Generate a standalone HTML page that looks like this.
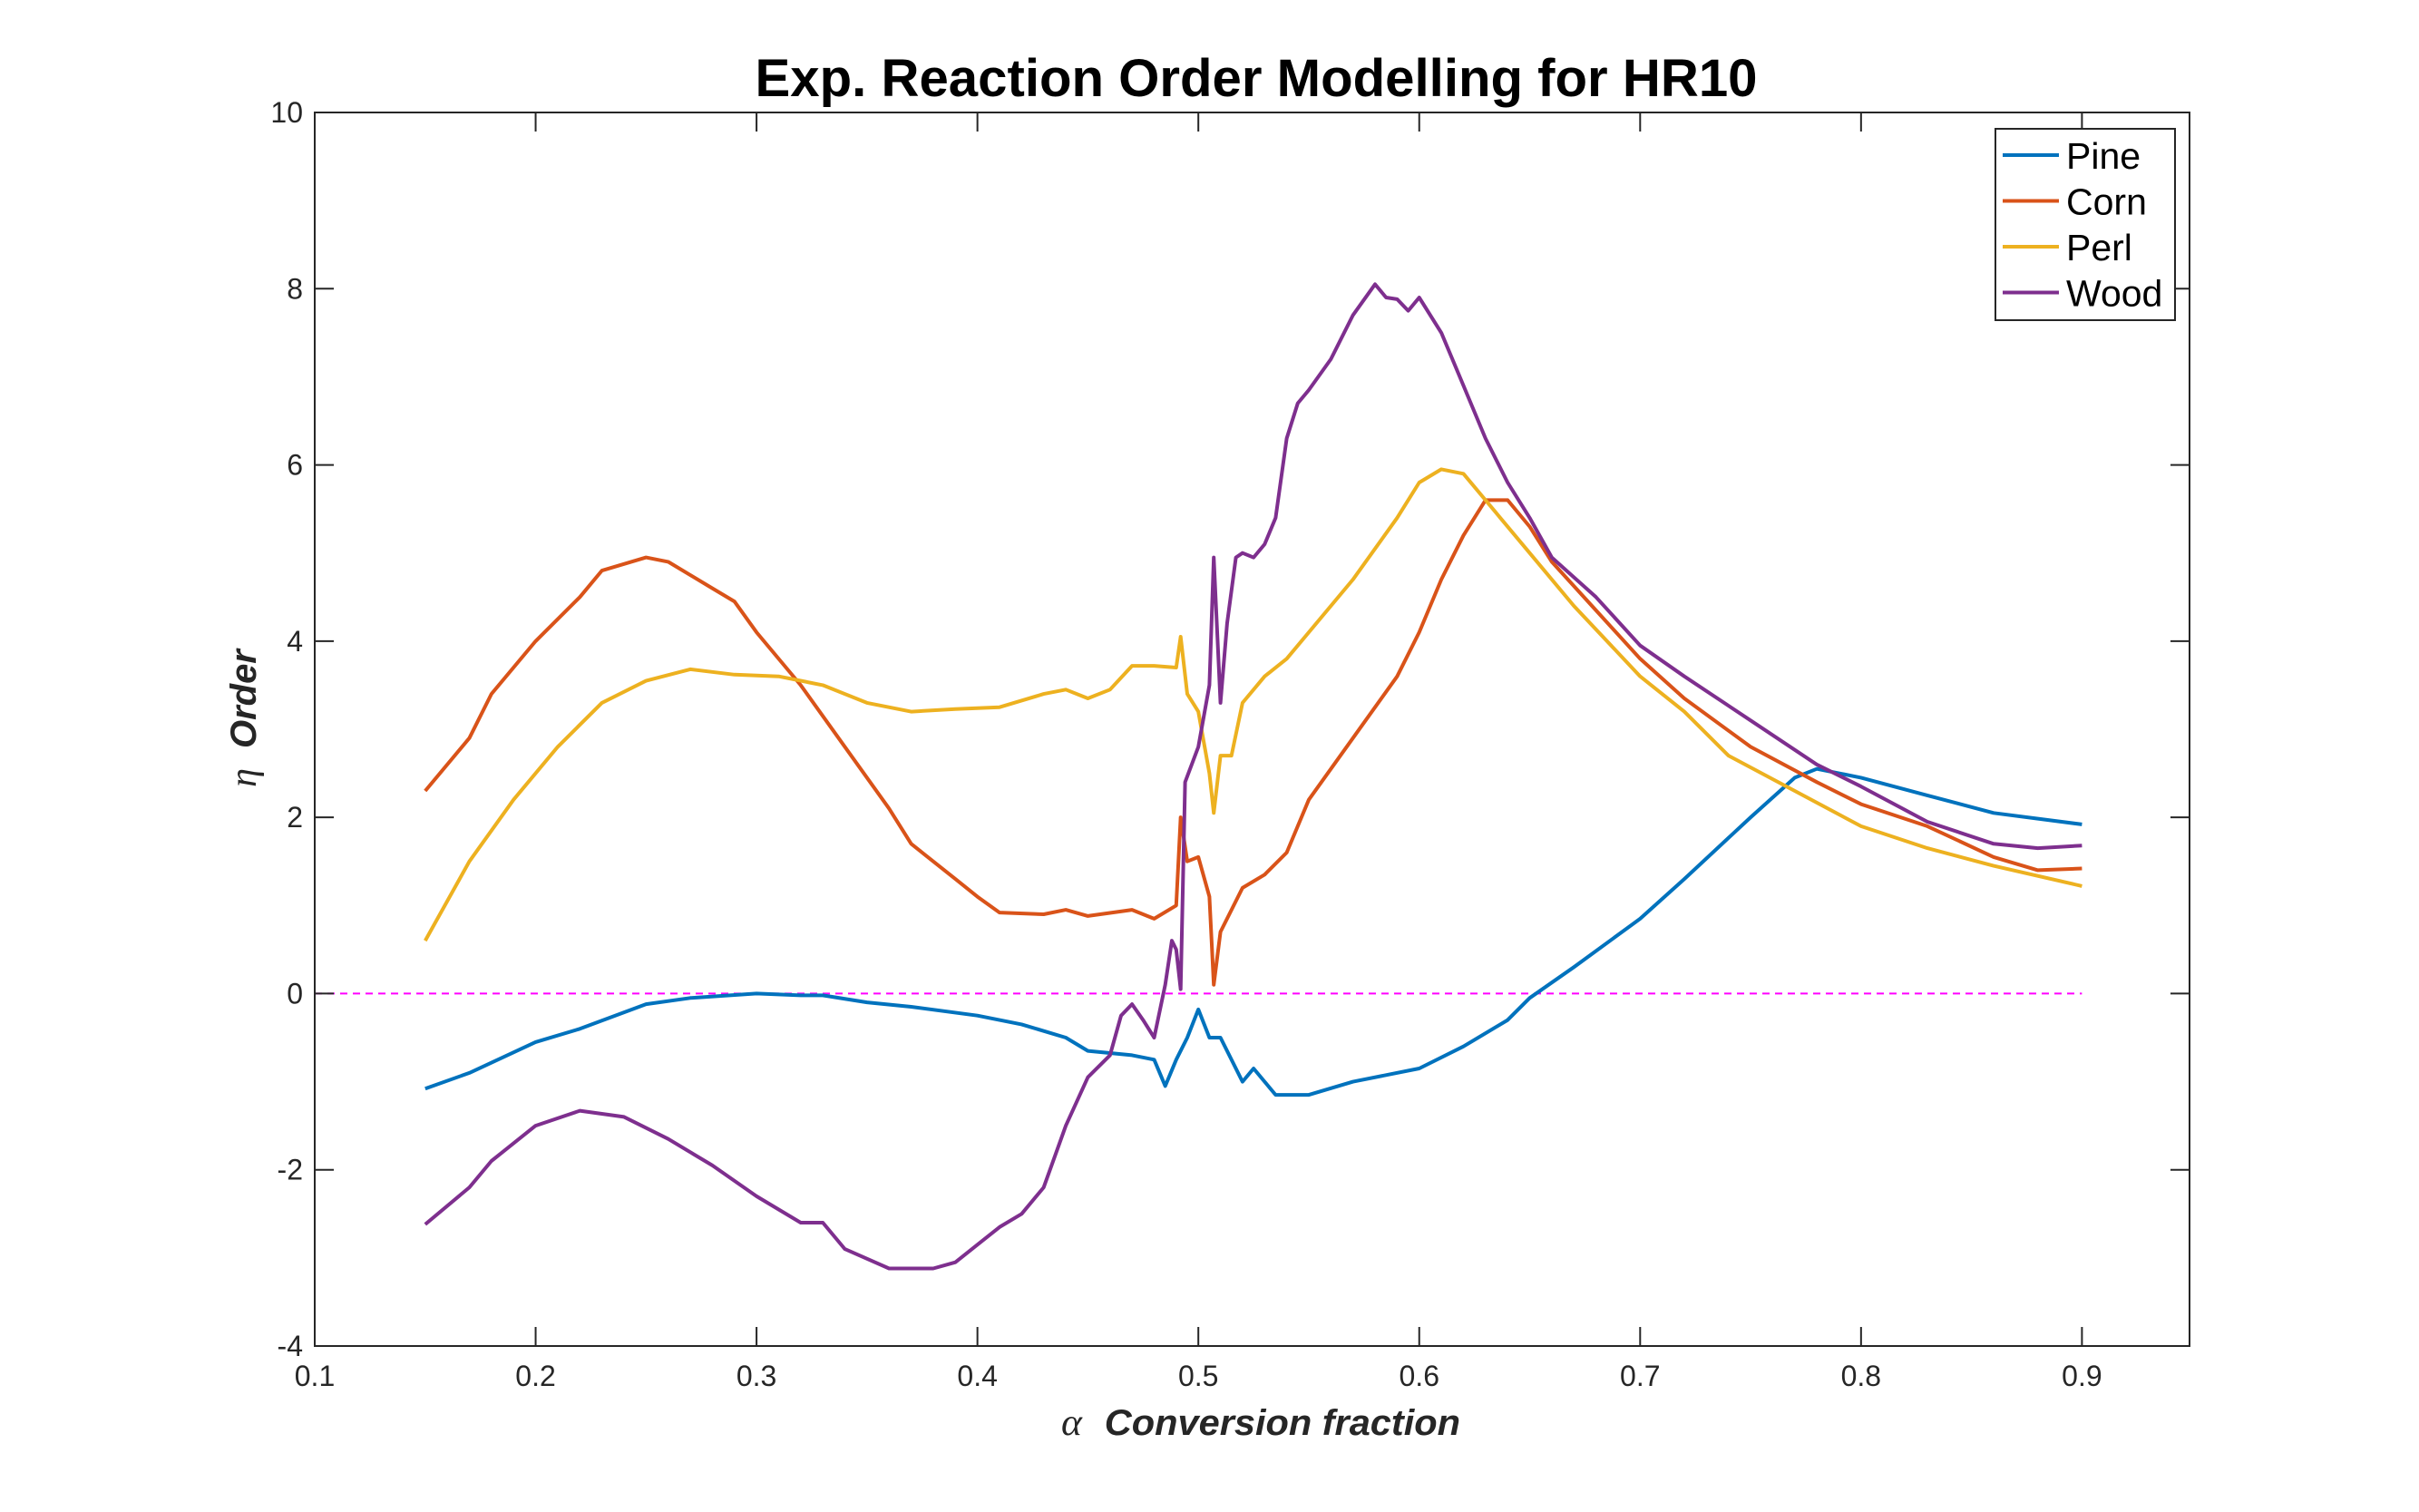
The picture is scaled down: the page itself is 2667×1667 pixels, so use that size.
<!DOCTYPE html>
<html><head><meta charset="utf-8"><style>
html,body{margin:0;padding:0;background:#fff;}
svg{display:block;font-family:"Liberation Sans",sans-serif;}
</style></head><body>
<svg id="chart" width="2667" height="1667" viewBox="0 0 2667 1667" xmlns="http://www.w3.org/2000/svg">
<rect width="2667" height="1667" fill="#fff"/>
<text x="1385" y="106" text-anchor="middle" font-size="58" font-weight="bold" textLength="1105" lengthAdjust="spacingAndGlyphs" fill="#000">Exp. Reaction Order Modelling for HR10</text>
<g id="plot"></g>
<g id="axes"></g>
<text x="1170" y="1582" font-size="40" fill="#262626" textLength="440" lengthAdjust="spacingAndGlyphs"><tspan font-family="Liberation Serif,serif" font-style="italic" font-size="42">α</tspan><tspan dx="24" font-weight="bold" font-style="italic">Conversion fraction</tspan></text>
<text transform="translate(282,792) rotate(-90)" text-anchor="middle" font-size="40" fill="#262626"><tspan font-family="Liberation Serif,serif" font-style="italic" font-size="42">η</tspan><tspan dx="22" font-weight="bold" font-style="italic">Order</tspan></text>
<g id="legend"></g>
</svg>
<script>
const xTicks=[0.1,0.2,0.3,0.4,0.5,0.6,0.7,0.8,0.9];
const yTicks=[-4,-2,0,2,4,6,8,10];
const seriesNames=["Pine","Corn","Perl","Wood"];
const seriesColors=["#0072BD","#D95319","#EDB120","#7E2F8E"];
const pineX=[0.15,0.17,0.2,0.22,0.25,0.27,0.3,0.32,0.33,0.35,0.37,0.4,0.42,0.44,0.45,0.47,0.48,0.485,0.49,0.495,0.5,0.505,0.51,0.52,0.525,0.53,0.535,0.55,0.57,0.6,0.62,0.64,0.65,0.67,0.7,0.72,0.75,0.77,0.78,0.8,0.83,0.86,0.9];
const pineY=[-1.08,-0.9,-0.55,-0.4,-0.12,-0.05,0.0,-0.02,-0.02,-0.1,-0.15,-0.25,-0.35,-0.5,-0.65,-0.7,-0.75,-1.05,-0.75,-0.5,-0.18,-0.5,-0.5,-1.0,-0.85,-1.0,-1.15,-1.15,-1.0,-0.85,-0.6,-0.3,-0.05,0.3,0.85,1.3,2.0,2.45,2.55,2.45,2.25,2.05,1.92];
const cornX=[0.15,0.17,0.18,0.2,0.22,0.23,0.25,0.26,0.28,0.29,0.3,0.32,0.34,0.36,0.37,0.39,0.4,0.41,0.43,0.44,0.45,0.47,0.48,0.49,0.492,0.495,0.5,0.505,0.507,0.51,0.52,0.53,0.54,0.55,0.57,0.59,0.6,0.61,0.62,0.63,0.64,0.65,0.66,0.68,0.7,0.72,0.75,0.78,0.8,0.83,0.86,0.88,0.9];
const cornY=[2.3,2.9,3.4,4.0,4.5,4.8,4.95,4.9,4.6,4.45,4.1,3.5,2.8,2.1,1.7,1.3,1.1,0.92,0.9,0.95,0.88,0.95,0.85,1.0,2.0,1.5,1.55,1.1,0.1,0.7,1.2,1.35,1.6,2.2,2.9,3.6,4.1,4.7,5.2,5.6,5.6,5.3,4.9,4.35,3.8,3.35,2.8,2.4,2.15,1.9,1.55,1.4,1.42];
const perlX=[0.15,0.17,0.19,0.21,0.23,0.25,0.27,0.29,0.31,0.33,0.35,0.37,0.39,0.41,0.43,0.44,0.45,0.46,0.47,0.48,0.49,0.492,0.495,0.5,0.505,0.507,0.51,0.515,0.52,0.53,0.54,0.55,0.57,0.59,0.6,0.61,0.62,0.63,0.65,0.67,0.7,0.72,0.74,0.77,0.8,0.83,0.86,0.9];
const perlY=[0.6,1.5,2.2,2.8,3.3,3.55,3.68,3.62,3.6,3.5,3.3,3.2,3.23,3.25,3.4,3.45,3.35,3.45,3.72,3.72,3.7,4.05,3.4,3.2,2.5,2.05,2.7,2.7,3.3,3.6,3.8,4.1,4.7,5.4,5.8,5.95,5.9,5.6,5.0,4.4,3.6,3.2,2.7,2.3,1.9,1.65,1.45,1.22];
const woodX=[0.15,0.17,0.18,0.2,0.22,0.24,0.26,0.28,0.3,0.32,0.33,0.34,0.36,0.38,0.39,0.4,0.41,0.42,0.43,0.44,0.45,0.46,0.465,0.47,0.475,0.48,0.485,0.488,0.49,0.492,0.494,0.5,0.505,0.507,0.51,0.513,0.517,0.52,0.525,0.53,0.535,0.54,0.545,0.55,0.56,0.57,0.58,0.585,0.59,0.595,0.6,0.61,0.62,0.63,0.64,0.65,0.66,0.68,0.7,0.72,0.75,0.78,0.8,0.83,0.86,0.88,0.9];
const woodY=[-2.62,-2.2,-1.9,-1.5,-1.33,-1.4,-1.65,-1.95,-2.3,-2.6,-2.6,-2.9,-3.12,-3.12,-3.05,-2.85,-2.65,-2.5,-2.2,-1.5,-0.95,-0.7,-0.25,-0.12,-0.3,-0.5,0.1,0.6,0.5,0.05,2.4,2.8,3.5,4.95,3.3,4.2,4.95,5.0,4.95,5.1,5.4,6.3,6.7,6.85,7.2,7.7,8.05,7.9,7.88,7.75,7.9,7.5,6.9,6.3,5.8,5.4,4.95,4.5,3.95,3.6,3.1,2.6,2.35,1.95,1.7,1.65,1.68];
const refLineX=[0.1,0.9];
const refLineY=[0,0];

const L=347,R=2414,T=124,B=1484,XMIN=0.1,XMAX=0.9487,YMIN=-4,YMAX=10;
const sx=v=>L+(v-XMIN)/(XMAX-XMIN)*(R-L);
const sy=v=>B-(v-YMIN)/(YMAX-YMIN)*(B-T);
const NS="http://www.w3.org/2000/svg";
function mk(tag,attrs,parent){const e=document.createElementNS(NS,tag);for(const k in attrs)e.setAttribute(k,attrs[k]);parent.appendChild(e);return e;}
const plot=document.getElementById('plot'),axes=document.getElementById('axes'),legend=document.getElementById('legend');

const ref=mk('polyline',{points:refLineX.map((x,i)=>sx(x)+','+sy(refLineY[i])).join(' '),fill:'none',stroke:'#FF00FF','stroke-width':2,'stroke-dasharray':'8,6'},plot);



const allX=[pineX,cornX,perlX,woodX],allY=[pineY,cornY,perlY,woodY];
allX.forEach((xs,s)=>{
  const p=mk('polyline',{points:xs.map((x,i)=>sx(x).toFixed(1)+','+sy(allY[s][i]).toFixed(1)).join(' '),fill:'none',stroke:seriesColors[s],'stroke-width':4,'stroke-linejoin':'round'},plot);
  
  
});

const box=mk('rect',{x:L,y:T,width:R-L,height:B-T,fill:'none',stroke:'#262626','stroke-width':2},axes);


xTicks.forEach(v=>{
  const x=sx(v);
  mk('line',{x1:x,y1:B,x2:x,y2:B-21,stroke:'#262626','stroke-width':2},axes);
  mk('line',{x1:x,y1:T,x2:x,y2:T+21,stroke:'#262626','stroke-width':2},axes);
  const t=mk('text',{x:x,y:1528,'text-anchor':'middle','font-size':32,fill:'#262626'},axes);
  t.textContent=String(v);
  
  
});
yTicks.forEach(v=>{
  const y=sy(v);
  mk('line',{x1:L,y1:y,x2:L+21,y2:y,stroke:'#262626','stroke-width':2},axes);
  mk('line',{x1:R,y1:y,x2:R-21,y2:y,stroke:'#262626','stroke-width':2},axes);
  const t=mk('text',{x:334,y:y+11,'text-anchor':'end','font-size':32,fill:'#262626'},axes);
  t.textContent=String(v);
  
  
});

const lb=mk('rect',{x:2200,y:142,width:198,height:211,fill:'#fff',stroke:'#262626','stroke-width':2},legend);


seriesNames.forEach((n,i)=>{
  const y=171+i*50.5;
  const g=mk('g',{},legend);
  
  
  mk('line',{x1:2208,y1:y,x2:2270,y2:y,stroke:seriesColors[i],'stroke-width':4},g);
  const t=mk('text',{x:2278,y:y+15,'font-size':41,fill:'#000'},g);
  t.textContent=n;
});
</script>
</body></html>
